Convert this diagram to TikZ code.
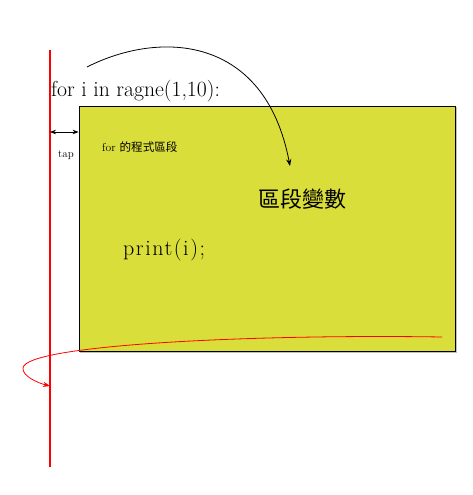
\documentclass[tikz,border=0pt]{standalone}
\usepackage{fontspec}
\newfontfamily\cjk{Noto Sans CJK TC}
\newfontfamily\widerm[LetterSpace=7]{Latin Modern Roman}
\usetikzlibrary{arrows.meta}
\definecolor{blockFill}{RGB}{218,222,58}
\begin{document}
\begin{tikzpicture}[%
  x=1pt,y=-1pt,%
  blockStyle/.style={draw=black,thick,fill=blockFill,minimum width=376pt,minimum height=245pt,inner sep=0pt},%
  indentLine/.style={red,line width=1.2pt},%
  jumpArrow/.style={-{Stealth[length=7pt]},thick},%
  loopArrow/.style={-{Stealth[length=7pt]},red,thick},%
  smallText/.style={font=\fontsize{11}{12}\selectfont,inner sep=0pt},%
  codeText/.style={inner sep=0pt,anchor=base west}%
]
%
% Bounding box of the picture.
\useasboundingbox (0,0) rectangle (473,495);
%
% The indentation guide and the block.
\coordinate (lineTop) at (50,50);
\coordinate (lineBottom) at (50,467);
\draw[gray!50,line width=1pt] (80.5,107.5) rectangle (456,352.5);
\node[blockStyle] (block) at (267,228.5) {};
\draw[indentLine] (lineTop) -- (lineBottom);
%
% Texts.
\node[codeText,font=\fontsize{21.7}{23}\selectfont] (forLine) at (51,96) {for i in ragne(1,10):};
\node[smallText,anchor=base west,font=\fontsize{11.6}{13}\selectfont] (blockName) at (102,151) {for {\cjk 的程式區段}};
\node[inner sep=0pt,anchor=base west,font=\fontsize{22}{24}\selectfont\cjk] (blockVar) at (258,207) {區段變數};
\node[codeText,font=\widerm\fontsize{22}{24}\selectfont] (printLine) at (123,255) {print(i);};
%
% The tab width.
\coordinate (tapLeft) at (50,132);
\coordinate (tapRight) at (block.west |- tapLeft);
\draw[{Stealth[length=6pt]}-{Stealth[length=6pt]},thick] (tapLeft) -- (tapRight);
\node[smallText] (tapLabel) at (66,155) {tap};
%
% The arrows.
\coordinate (jumpStart) at (87,67);
\coordinate (jumpEnd) at (290,166);
\draw[jumpArrow] (jumpStart) .. controls (160,30) and (265,35) .. (jumpEnd);
\coordinate (loopStart) at (442,337);
\coordinate (loopTurn) at (23,368);
\coordinate (loopEnd) at (50,386);
\draw[loopArrow] (loopStart) .. controls (250,334) and (25,345) .. (loopTurn)
  .. controls (22,376) and (38,383) .. (loopEnd);
\end{tikzpicture}
\end{document}
